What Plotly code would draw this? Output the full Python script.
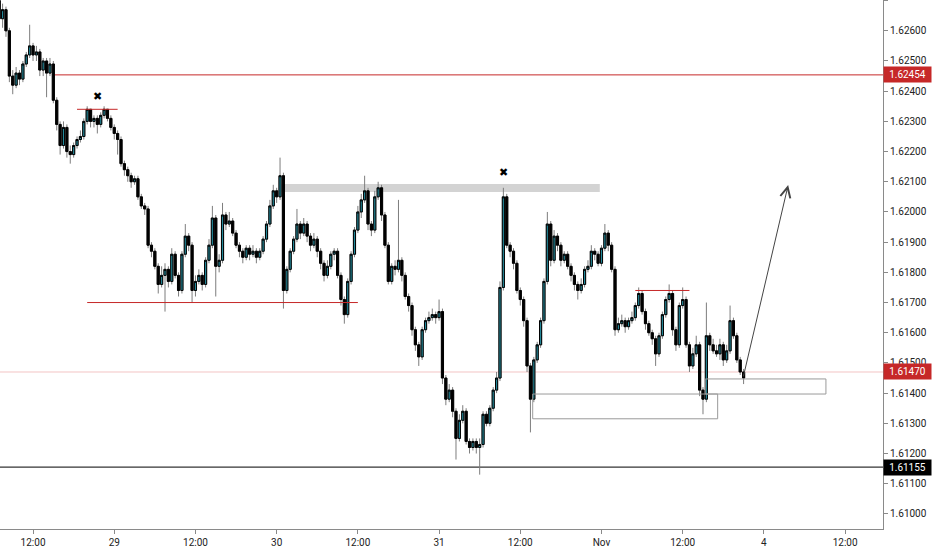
import pandas as pd
import plotly.graph_objects as go

# 30 minute candles
times = pd.date_range("2019-10-28 07:00", periods=221, freq="30min")

open_ = [
    1.6270, 1.6264, 1.6267, 1.6260, 1.6245, 1.6242, 1.6246, 1.6244, 1.6249, 1.6252,
    1.6255, 1.6252, 1.6253, 1.6247, 1.6250, 1.6246, 1.6249, 1.6237, 1.6229, 1.6222,
    1.6228, 1.6220, 1.6219, 1.6222, 1.6224, 1.6225, 1.6230, 1.6234, 1.6230, 1.6231,
    1.6229, 1.6232, 1.6234, 1.6231, 1.6228, 1.6226, 1.6224, 1.6216, 1.6214, 1.6212,
    1.6210, 1.6211, 1.6205, 1.6202, 1.6201, 1.6189, 1.6187, 1.6182, 1.6176, 1.6179,
    1.6181, 1.6177, 1.6186, 1.6179, 1.6174, 1.6186, 1.6192, 1.6189, 1.6174, 1.6177,
    1.6179, 1.6176, 1.6184, 1.6189, 1.6198, 1.6182, 1.6184, 1.6199, 1.6196, 1.6197,
    1.6193, 1.6189, 1.6187, 1.6185, 1.6188, 1.6186, 1.6187, 1.6185, 1.6187, 1.6191,
    1.6196, 1.6202, 1.6207, 1.6205, 1.6212, 1.6174, 1.6181, 1.6187, 1.6191, 1.6196,
    1.6193, 1.6196, 1.6192, 1.6189, 1.6191, 1.6187, 1.6183, 1.6179, 1.6182, 1.6186,
    1.6187, 1.6179, 1.6171, 1.6166, 1.6177, 1.6186, 1.6194, 1.6200, 1.6204, 1.6207,
    1.6196, 1.6194, 1.6205, 1.6208, 1.6199, 1.6189, 1.6177, 1.6182, 1.6181, 1.6184,
    1.6179, 1.6172, 1.6169, 1.6161, 1.6156, 1.6152, 1.6161, 1.6164, 1.6165, 1.6166,
    1.6165, 1.6167, 1.6145, 1.6138, 1.6141, 1.6134, 1.6125, 1.6131, 1.6134, 1.6124,
    1.6122, 1.6124, 1.6122, 1.6123, 1.6133, 1.6130, 1.6135, 1.6141, 1.6145, 1.6175,
    1.6205, 1.6189, 1.6187, 1.6183, 1.6174, 1.6171, 1.6164, 1.6149, 1.6138, 1.6151,
    1.6156, 1.6164, 1.6177, 1.6196, 1.6184, 1.6192, 1.6189, 1.6184, 1.6186, 1.6182,
    1.6179, 1.6176, 1.6174, 1.6176, 1.6181, 1.6182, 1.6187, 1.6186, 1.6183, 1.6188,
    1.6193, 1.6189, 1.6181, 1.6161, 1.6163, 1.6164, 1.6162, 1.6164, 1.6165, 1.6169,
    1.6173, 1.6167, 1.6163, 1.6160, 1.6158, 1.6153, 1.6159, 1.6166, 1.6171, 1.6173,
    1.6161, 1.6156, 1.6169, 1.6171, 1.6156, 1.6149, 1.6153, 1.6156, 1.6141, 1.6138,
    1.6159, 1.6156, 1.6154, 1.6153, 1.6156, 1.6151, 1.6154, 1.6164, 1.6159, 1.6151,
    1.6147,
]
high = [
    1.6273, 1.6269, 1.6268, 1.6261, 1.6247, 1.6248, 1.6247, 1.6250, 1.6253, 1.6262,
    1.6256, 1.6255, 1.6254, 1.6251, 1.6251, 1.6251, 1.6250, 1.6238, 1.6230, 1.6230,
    1.6229, 1.6222, 1.6223, 1.6225, 1.6227, 1.6231, 1.6235, 1.6234, 1.6232, 1.6232,
    1.6233, 1.6235, 1.6234, 1.6232, 1.6229, 1.6227, 1.6225, 1.6217, 1.6215, 1.6213,
    1.6212, 1.6212, 1.6206, 1.6203, 1.6202, 1.6190, 1.6188, 1.6183, 1.6182, 1.6183,
    1.6182, 1.6188, 1.6187, 1.6180, 1.6187, 1.6196, 1.6193, 1.6190, 1.6179, 1.6181,
    1.6180, 1.6185, 1.6191, 1.6202, 1.6199, 1.6186, 1.6203, 1.6200, 1.6200, 1.6198,
    1.6194, 1.6190, 1.6188, 1.6189, 1.6189, 1.6189, 1.6188, 1.6188, 1.6192, 1.6197,
    1.6204, 1.6209, 1.6208, 1.6218, 1.6213, 1.6182, 1.6188, 1.6192, 1.6201, 1.6197,
    1.6198, 1.6197, 1.6193, 1.6193, 1.6192, 1.6188, 1.6184, 1.6184, 1.6187, 1.6188,
    1.6188, 1.6180, 1.6172, 1.6178, 1.6187, 1.6195, 1.6202, 1.6206, 1.6212, 1.6208,
    1.6197, 1.6207, 1.6210, 1.6209, 1.6200, 1.6190, 1.6183, 1.6184, 1.6204, 1.6185,
    1.6180, 1.6173, 1.6170, 1.6162, 1.6157, 1.6162, 1.6165, 1.6167, 1.6168, 1.6167,
    1.6171, 1.6168, 1.6146, 1.6143, 1.6142, 1.6135, 1.6133, 1.6136, 1.6135, 1.6125,
    1.6125, 1.6125, 1.6125, 1.6134, 1.6134, 1.6136, 1.6142, 1.6147, 1.6177, 1.6208,
    1.6206, 1.6190, 1.6188, 1.6184, 1.6175, 1.6172, 1.6165, 1.6150, 1.6152, 1.6157,
    1.6165, 1.6178, 1.6200, 1.6197, 1.6194, 1.6193, 1.6190, 1.6187, 1.6187, 1.6183,
    1.6180, 1.6177, 1.6178, 1.6182, 1.6184, 1.6189, 1.6188, 1.6187, 1.6189, 1.6196,
    1.6194, 1.6190, 1.6182, 1.6165, 1.6166, 1.6165, 1.6165, 1.6167, 1.6170, 1.6175,
    1.6174, 1.6168, 1.6164, 1.6161, 1.6159, 1.6160, 1.6167, 1.6172, 1.6176, 1.6174,
    1.6162, 1.6170, 1.6175, 1.6172, 1.6157, 1.6155, 1.6159, 1.6157, 1.6142, 1.6170,
    1.6160, 1.6158, 1.6156, 1.6158, 1.6157, 1.6156, 1.6169, 1.6165, 1.6160, 1.6152,
    1.6148,
]
low = [
    1.6263, 1.6261, 1.6258, 1.6243, 1.6239, 1.6241, 1.6242, 1.6243, 1.6248, 1.6251,
    1.6250, 1.6250, 1.6245, 1.6245, 1.6238, 1.6245, 1.6236, 1.6227, 1.6219, 1.6221,
    1.6218, 1.6216, 1.6218, 1.6221, 1.6223, 1.6224, 1.6229, 1.6228, 1.6228, 1.6226,
    1.6228, 1.6231, 1.6230, 1.6227, 1.6224, 1.6219, 1.6215, 1.6212, 1.6210, 1.6208,
    1.6209, 1.6204, 1.6201, 1.6199, 1.6188, 1.6185, 1.6181, 1.6173, 1.6175, 1.6167,
    1.6175, 1.6176, 1.6178, 1.6172, 1.6173, 1.6185, 1.6187, 1.6170, 1.6172, 1.6176,
    1.6174, 1.6175, 1.6183, 1.6188, 1.6172, 1.6180, 1.6183, 1.6194, 1.6195, 1.6192,
    1.6188, 1.6185, 1.6183, 1.6184, 1.6184, 1.6185, 1.6183, 1.6184, 1.6186, 1.6190,
    1.6195, 1.6201, 1.6203, 1.6204, 1.6168, 1.6173, 1.6180, 1.6186, 1.6190, 1.6191,
    1.6192, 1.6190, 1.6187, 1.6188, 1.6185, 1.6181, 1.6177, 1.6178, 1.6181, 1.6184,
    1.6178, 1.6169, 1.6163, 1.6165, 1.6176, 1.6185, 1.6193, 1.6198, 1.6203, 1.6194,
    1.6192, 1.6193, 1.6204, 1.6197, 1.6188, 1.6176, 1.6176, 1.6179, 1.6180, 1.6177,
    1.6171, 1.6167, 1.6159, 1.6154, 1.6149, 1.6151, 1.6160, 1.6163, 1.6164, 1.6163,
    1.6164, 1.6143, 1.6136, 1.6137, 1.6132, 1.6118, 1.6124, 1.6130, 1.6123, 1.6120,
    1.6121, 1.6120, 1.6113, 1.6122, 1.6129, 1.6129, 1.6134, 1.6140, 1.6144, 1.6174,
    1.6188, 1.6185, 1.6181, 1.6173, 1.6169, 1.6162, 1.6147, 1.6127, 1.6137, 1.6150,
    1.6155, 1.6163, 1.6176, 1.6182, 1.6183, 1.6187, 1.6182, 1.6183, 1.6181, 1.6177,
    1.6174, 1.6171, 1.6173, 1.6175, 1.6180, 1.6181, 1.6184, 1.6182, 1.6182, 1.6187,
    1.6187, 1.6180, 1.6159, 1.6160, 1.6162, 1.6160, 1.6161, 1.6163, 1.6164, 1.6168,
    1.6166, 1.6161, 1.6159, 1.6156, 1.6149, 1.6152, 1.6158, 1.6165, 1.6170, 1.6159,
    1.6154, 1.6155, 1.6168, 1.6155, 1.6147, 1.6148, 1.6152, 1.6139, 1.6133, 1.6137,
    1.6154, 1.6153, 1.6152, 1.6151, 1.6149, 1.6150, 1.6153, 1.6158, 1.6150, 1.6146,
    1.6143,
]
close = [
    1.6264, 1.6267, 1.6260, 1.6245, 1.6242, 1.6246, 1.6244, 1.6249, 1.6252, 1.6255,
    1.6252, 1.6253, 1.6247, 1.6250, 1.6246, 1.6249, 1.6237, 1.6229, 1.6222, 1.6228,
    1.6220, 1.6219, 1.6222, 1.6224, 1.6225, 1.6230, 1.6234, 1.6230, 1.6231, 1.6229,
    1.6232, 1.6234, 1.6231, 1.6228, 1.6226, 1.6224, 1.6216, 1.6214, 1.6212, 1.6210,
    1.6211, 1.6205, 1.6202, 1.6201, 1.6189, 1.6187, 1.6182, 1.6176, 1.6179, 1.6181,
    1.6177, 1.6186, 1.6179, 1.6174, 1.6186, 1.6192, 1.6189, 1.6174, 1.6177, 1.6179,
    1.6176, 1.6184, 1.6189, 1.6198, 1.6182, 1.6184, 1.6199, 1.6196, 1.6197, 1.6193,
    1.6189, 1.6187, 1.6185, 1.6188, 1.6186, 1.6187, 1.6185, 1.6187, 1.6191, 1.6196,
    1.6202, 1.6207, 1.6205, 1.6212, 1.6174, 1.6181, 1.6187, 1.6191, 1.6196, 1.6193,
    1.6196, 1.6192, 1.6189, 1.6191, 1.6187, 1.6183, 1.6179, 1.6182, 1.6186, 1.6187,
    1.6179, 1.6171, 1.6166, 1.6177, 1.6186, 1.6194, 1.6200, 1.6204, 1.6207, 1.6196,
    1.6194, 1.6205, 1.6208, 1.6199, 1.6189, 1.6177, 1.6182, 1.6181, 1.6184, 1.6179,
    1.6172, 1.6169, 1.6161, 1.6156, 1.6152, 1.6161, 1.6164, 1.6165, 1.6166, 1.6165,
    1.6167, 1.6145, 1.6138, 1.6141, 1.6134, 1.6125, 1.6131, 1.6134, 1.6124, 1.6122,
    1.6124, 1.6122, 1.6123, 1.6133, 1.6130, 1.6135, 1.6141, 1.6145, 1.6175, 1.6205,
    1.6189, 1.6187, 1.6183, 1.6174, 1.6171, 1.6164, 1.6149, 1.6138, 1.6151, 1.6156,
    1.6164, 1.6177, 1.6196, 1.6184, 1.6192, 1.6189, 1.6184, 1.6186, 1.6182, 1.6179,
    1.6176, 1.6174, 1.6176, 1.6181, 1.6182, 1.6187, 1.6186, 1.6183, 1.6188, 1.6193,
    1.6189, 1.6181, 1.6161, 1.6163, 1.6164, 1.6162, 1.6164, 1.6165, 1.6169, 1.6173,
    1.6167, 1.6163, 1.6160, 1.6158, 1.6153, 1.6159, 1.6166, 1.6171, 1.6173, 1.6161,
    1.6156, 1.6169, 1.6171, 1.6156, 1.6149, 1.6153, 1.6156, 1.6141, 1.6138, 1.6159,
    1.6156, 1.6154, 1.6153, 1.6156, 1.6151, 1.6154, 1.6164, 1.6159, 1.6151, 1.6147,
    1.6145,
]

# x-axis labels
tick_times = ["2019-10-28 12:00", "2019-10-29 00:00", "2019-10-29 12:00", "2019-10-30 00:00",
              "2019-10-30 12:00", "2019-10-31 00:00", "2019-10-31 12:00", "2019-11-01 00:00",
              "2019-11-01 12:00", "2019-11-04 00:00", "2019-11-04 12:00"]
tick_text = ["12:00", "29", "12:00", "30", "12:00", "31", "12:00", "Nov", "12:00", "4", "12:00"]

# drawings: horizontal levels
full_levels = [(1.61470, "#f3c4c4"), (1.61155, "#000000")]
ray_level = (1.62454, "2019-10-28 15:00")
short_levels = [
    (1.6234, "2019-10-28 18:30", "2019-10-29 00:30"),
    (1.6170, "2019-10-28 20:00", "2019-10-30 12:00"),
    (1.6174, "2019-11-01 05:00", "2019-11-01 13:00"),
]
gray_zone = ("2019-10-30 00:30", "2019-10-31 23:45", 1.62066, 1.62093)
boxes = [
    ("2019-10-31 13:50", "2019-11-01 17:10", 1.61315, 1.61397),
    ("2019-11-01 15:20", "2019-11-04 09:10", 1.61397, 1.61447),
]
cross_marks = [("2019-10-28 21:30", 1.62384), ("2019-10-31 09:35", 1.62132)]
arrow_from = ("2019-11-01 20:55", 1.61450)
arrow_to = ("2019-11-04 03:35", 1.62089)
price_tags = [(1.62454, "#c62828"), (1.61470, "#c62828"), (1.61155, "#000000")]

teal = "#23899a"
wick = "#7d7d7d"
font = "Roboto"

fig = go.Figure()

# wicks (grey)
fig.add_trace(go.Candlestick(
    x=times, open=open_, high=high, low=low, close=close,
    increasing=dict(line=dict(color=wick, width=1), fillcolor=wick),
    decreasing=dict(line=dict(color=wick, width=1), fillcolor=wick),
    hoverinfo="skip", showlegend=False,
))

# bodies
body_top = [max(o, c) for o, c in zip(open_, close)]
body_bot = [min(o, c) for o, c in zip(open_, close)]
fig.add_trace(go.Candlestick(
    x=times, open=open_, high=body_top, low=body_bot, close=close,
    increasing=dict(line=dict(color="#000000", width=1), fillcolor=teal),
    decreasing=dict(line=dict(color="#000000", width=1), fillcolor="#000000"),
    hoverinfo="skip", showlegend=False,
))

shapes = []
for price, color in full_levels:
    shapes.append(dict(type="line", xref="paper", yref="y", x0=0, x1=1, y0=price, y1=price,
                       line=dict(color=color, width=1), layer="below"))
shapes.append(dict(type="line", xref="x", yref="y", x0=ray_level[1], x1="2019-11-05 12:00",
                   y0=ray_level[0], y1=ray_level[0], line=dict(color="#c62828", width=1),
                   layer="below"))
for price, x0, x1 in short_levels:
    shapes.append(dict(type="line", xref="x", yref="y", x0=x0, x1=x1, y0=price, y1=price,
                       line=dict(color="#c62828", width=1)))
shapes.append(dict(type="rect", xref="x", yref="y", x0=gray_zone[0], x1=gray_zone[1],
                   y0=gray_zone[2], y1=gray_zone[3], fillcolor="#d3d3d3",
                   line=dict(width=0), layer="below"))
for x0, x1, y0, y1 in boxes:
    shapes.append(dict(type="rect", xref="x", yref="y", x0=x0, x1=x1, y0=y0, y1=y1,
                       line=dict(color="#9a9a9a", width=1), fillcolor="rgba(0,0,0,0)"))

annotations = []
for x, y in cross_marks:
    annotations.append(dict(x=x, y=y, xref="x", yref="y", text="✖", showarrow=False,
                            font=dict(family="DejaVu Sans", size=11, color="#000000")))
annotations.append(dict(x=arrow_to[0], y=arrow_to[1], ax=arrow_from[0], ay=arrow_from[1],
                        xref="x", yref="y", axref="x", ayref="y", text="", showarrow=True,
                        arrowhead=5, arrowsize=2, arrowwidth=1, arrowcolor="#444444"))

# price labels on the right axis
for price, bg in price_tags:
    annotations.append(dict(x=1, y=price, xref="paper", yref="y", xanchor="left",
                            text=f"{price:.5f}", showarrow=False, bgcolor=bg,
                            width=45, height=13, borderpad=1, align="center",
                            font=dict(family=font, size=10, color="#ffffff")))

fig.update_layout(
    width=932, height=550,
    margin=dict(l=0, r=49, t=0, b=21),
    paper_bgcolor="#ffffff", plot_bgcolor="#ffffff",
    shapes=shapes, annotations=annotations,
    showlegend=False, boxgap=0.1,
    font=dict(family=font, size=10, color="#222222"),
    xaxis=dict(
        rangeslider=dict(visible=False),
        rangebreaks=[dict(values=["2019-11-01 22:00"], dvalue=2 * 24 * 3600 * 1000)],
        range=["2019-10-28 07:07", "2019-11-04 17:36"],
        tickvals=tick_times, ticktext=tick_text,
        showgrid=False, zeroline=False,
        showline=True, linecolor="#8a8a8a", linewidth=1,
        ticks="outside", ticklen=4, tickcolor="#8a8a8a",
        tickfont=dict(family=font, size=10, color="#222222"),
    ),
    yaxis=dict(
        side="right",
        range=[1.6095, 1.62702],
        dtick=0.001, tick0=1.6, tickformat=".5f",
        showgrid=False, zeroline=False,
        showline=True, linecolor="#8a8a8a", linewidth=1,
        ticks="outside", ticklen=4, tickcolor="#8a8a8a",
        tickfont=dict(family=font, size=10, color="#222222"),
    ),
)

fig.write_html("out.html", config={"displayModeBar": False},
               post_script="document.body.style.margin='0px';document.body.style.overflow='hidden';")
